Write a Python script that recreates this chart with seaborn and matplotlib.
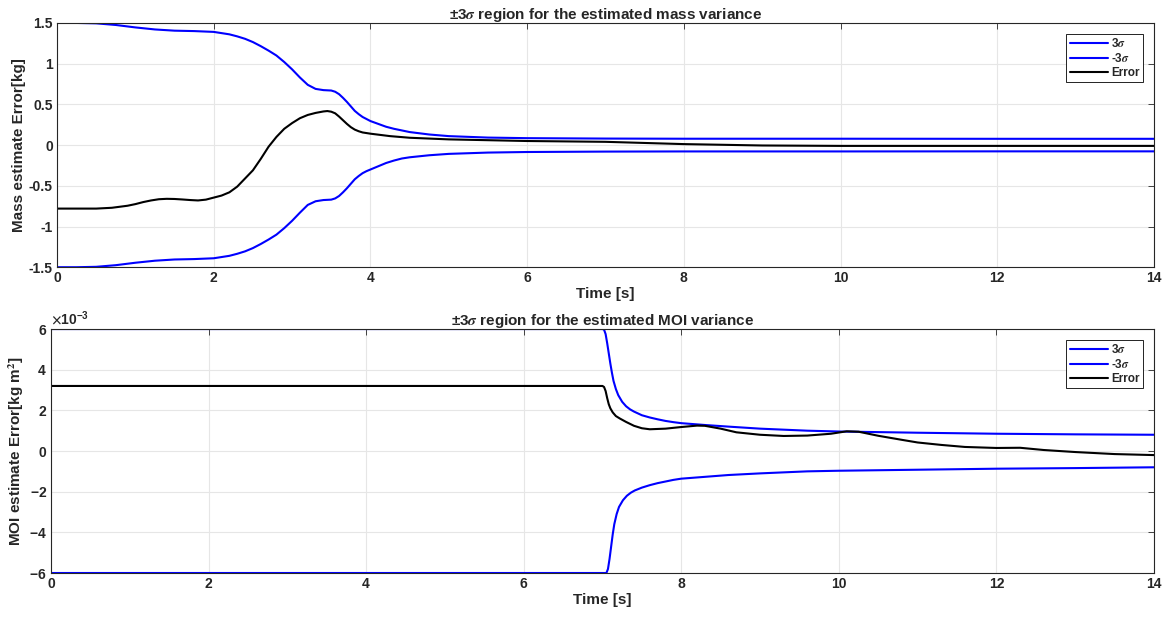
import numpy as np
import pandas as pd
import matplotlib
matplotlib.use('Agg')
import matplotlib.pyplot as plt
import seaborn as sns
from matplotlib.ticker import FuncFormatter, ScalarFormatter

# top panel: mass
t_mass = [0, 0.25, 0.5, 0.75, 1.0, 1.25, 1.5, 1.75, 2.0, 2.1, 2.2, 2.3, 2.4, 2.5, 2.6, 2.7,
          2.8, 2.9, 3.0, 3.1, 3.2, 3.3, 3.4, 3.5, 3.55, 3.6, 3.65, 3.7, 3.75, 3.8, 3.85, 3.9,
          3.95, 4.0, 4.1, 4.2, 4.3, 4.4, 4.5, 4.75, 5.0, 5.5, 6.0, 7.0, 8.0, 10.0, 12.0, 14.0]
mass_up = [1.5, 1.5, 1.495, 1.475, 1.445, 1.42, 1.405, 1.4, 1.39, 1.375, 1.36, 1.335, 1.305,
           1.265, 1.215, 1.16, 1.1, 1.02, 0.93, 0.83, 0.74, 0.69, 0.675, 0.67, 0.655, 0.625,
           0.58, 0.53, 0.475, 0.42, 0.38, 0.345, 0.32, 0.295, 0.26, 0.225, 0.2, 0.18, 0.16,
           0.13, 0.11, 0.092, 0.085, 0.08, 0.078, 0.078, 0.077, 0.077]
mass_lo = [-1.5, -1.5, -1.495, -1.475, -1.445, -1.42, -1.405, -1.4, -1.39, -1.375, -1.36,
           -1.335, -1.305, -1.265, -1.215, -1.16, -1.1, -1.02, -0.93, -0.83, -0.735, -0.69,
           -0.675, -0.67, -0.655, -0.625, -0.58, -0.53, -0.475, -0.42, -0.38, -0.345, -0.32,
           -0.3, -0.26, -0.22, -0.19, -0.165, -0.15, -0.125, -0.108, -0.092, -0.085, -0.08,
           -0.078, -0.078, -0.077, -0.077]
t_merr = [0, 0.5, 0.7, 0.9, 1.0, 1.1, 1.2, 1.3, 1.4, 1.5, 1.6, 1.7, 1.8, 1.9, 2.0, 2.1, 2.2,
          2.3, 2.4, 2.5, 2.6, 2.7, 2.8, 2.9, 3.0, 3.1, 3.2, 3.3, 3.4, 3.45, 3.5, 3.55, 3.6,
          3.65, 3.7, 3.75, 3.8, 3.85, 3.9, 4.0, 4.25, 4.5, 5.0, 5.5, 6.0, 7.0, 8.0, 9.0, 10.0,
          12.0, 14.0]
mass_err = [-0.78, -0.78, -0.77, -0.745, -0.725, -0.7, -0.68, -0.665, -0.66, -0.662, -0.668,
            -0.675, -0.68, -0.67, -0.645, -0.62, -0.58, -0.51, -0.41, -0.31, -0.17, -0.02,
            0.1, 0.2, 0.27, 0.33, 0.37, 0.395, 0.413, 0.418, 0.41, 0.39, 0.35, 0.305, 0.26,
            0.22, 0.19, 0.17, 0.155, 0.14, 0.11, 0.09, 0.07, 0.06, 0.05, 0.04, 0.012, -0.005,
            -0.01, -0.01, -0.01]

# bottom panel: MOI (x1e-3)
t_moi_up = [0, 7.0, 7.02, 7.04, 7.06, 7.08, 7.1, 7.12, 7.14, 7.17, 7.2, 7.25, 7.3, 7.35, 7.4,
            7.5, 7.6, 7.7, 7.8, 7.9, 8.0, 8.3, 8.6, 9.0, 9.6, 10.0, 11.0, 12.0, 13.0, 14.0]
moi_up = [6, 6, 5.97, 5.75, 5.3, 4.8, 4.3, 3.85, 3.45, 3.05, 2.75, 2.42, 2.2, 2.05, 1.94, 1.76,
          1.65, 1.56, 1.48, 1.42, 1.37, 1.28, 1.2, 1.1, 1.0, 0.96, 0.9, 0.85, 0.82, 0.8]
t_moi_lo = [0, 7.05, 7.07, 7.09, 7.11, 7.13, 7.15, 7.18, 7.21, 7.26, 7.31, 7.36, 7.41, 7.5,
            7.6, 7.7, 7.8, 7.9, 8.0, 8.3, 8.6, 9.0, 9.6, 10.0, 11.0, 12.0, 13.0, 14.0]
moi_lo = [-6, -6, -5.8, -5.3, -4.7, -4.1, -3.6, -3.1, -2.75, -2.42, -2.2, -2.05, -1.94, -1.8,
          -1.68, -1.58, -1.5, -1.42, -1.36, -1.27, -1.18, -1.1, -1.0, -0.97, -0.92, -0.87,
          -0.84, -0.8]
t_moi_err = [0, 7.0, 7.02, 7.04, 7.06, 7.08, 7.1, 7.13, 7.17, 7.22, 7.3, 7.4, 7.5, 7.6, 7.8,
             8.0, 8.2, 8.3, 8.5, 8.7, 9.0, 9.3, 9.6, 9.9, 10.1, 10.25, 10.5, 10.8, 11.0, 11.3,
             11.6, 12.0, 12.3, 12.6, 13.0, 13.5, 14.0]
moi_err = [3.2, 3.2, 3.15, 2.95, 2.6, 2.3, 2.1, 1.9, 1.72, 1.6, 1.43, 1.24, 1.12, 1.07, 1.1,
           1.18, 1.25, 1.24, 1.1, 0.92, 0.8, 0.74, 0.76, 0.85, 0.97, 0.95, 0.75, 0.55, 0.42,
           0.3, 0.2, 0.15, 0.16, 0.05, -0.05, -0.15, -0.2]

sns.set_style("whitegrid")
plt.rcParams['font.family'] = ['Liberation Sans', 'DejaVu Sans']
plt.rcParams['font.weight'] = 'bold'
plt.rcParams['axes.unicode_minus'] = False
plt.rcParams['mathtext.fontset'] = 'stix'

fig = plt.figure(figsize=(11.66, 6.2), dpi=100)
ax1 = fig.add_axes([0.0489, 0.569, 0.9408, 0.394])
ax2 = fig.add_axes([0.0437, 0.0758, 0.946, 0.3935])

blue = '#0000ff'
lw = 1.5
sns.lineplot(x=t_mass, y=mass_up, ax=ax1, color=blue, lw=lw, sort=False, label='3$\\sigma$')
sns.lineplot(x=t_mass, y=mass_lo, ax=ax1, color=blue, lw=lw, sort=False, label='-3$\\sigma$')
sns.lineplot(x=t_merr, y=mass_err, ax=ax1, color='black', lw=lw, sort=False, label='Error')

sns.lineplot(x=t_moi_up, y=np.array(moi_up) * 1e-3, ax=ax2, color=blue, lw=lw, sort=False,
             label='3$\\sigma$')
sns.lineplot(x=t_moi_lo, y=np.array(moi_lo) * 1e-3, ax=ax2, color=blue, lw=lw, sort=False,
             label='-3$\\sigma$')
sns.lineplot(x=t_moi_err, y=np.array(moi_err) * 1e-3, ax=ax2, color='black', lw=lw,
             sort=False, label='Error')

ax1.set_ylim(-1.5, 1.5)
ax1.set_yticks([-1.5, -1, -0.5, 0, 0.5, 1, 1.5])
ax1.yaxis.set_major_formatter(FuncFormatter(lambda v, p: '%g' % v))
ax1.set_title('±3$\\sigma$ region for the estimated mass variance', fontsize=11,
              fontweight='bold', pad=3)
ax1.set_ylabel('Mass estimate Error[kg]', fontsize=11, fontweight='bold', labelpad=2)

ax2.set_ylim(-6e-3, 6e-3)
ax2.set_yticks(np.arange(-6, 7, 2) * 1e-3)
fmt = ScalarFormatter(useMathText=True)
fmt.set_powerlimits((-2, 2))
ax2.yaxis.set_major_formatter(fmt)
ax2.set_title('±3$\\sigma$ region for the estimated MOI variance', fontsize=11,
              fontweight='bold', pad=3)
ax2.set_ylabel('MOI estimate Error[kg m$^2$]', fontsize=11, fontweight='bold', labelpad=2)

for ax in (ax1, ax2):
    ax.set_xlim(0, 14)
    ax.set_xticks(range(0, 15, 2))
    ax.xaxis.set_major_formatter(FuncFormatter(lambda v, p: '%g' % v))
    ax.set_xlabel('Time [s]', fontsize=11, fontweight='bold', labelpad=1)
    ax.grid(True, color='#e6e6e6', lw=0.8)
    for s in ax.spines.values():
        s.set_color('#262626')
        s.set_linewidth(0.8)
    ax.tick_params(direction='in', length=4, width=0.6, color='#262626', labelsize=10,
                   top=True, right=True, pad=3)
    for lab in ax.get_xticklabels() + ax.get_yticklabels():
        lab.set_fontweight('bold')
    leg = ax.legend(loc='upper right', frameon=True, fancybox=False,
                    edgecolor='black', framealpha=1, handlelength=3.2, borderpad=0.3,
                    labelspacing=0.15, handletextpad=0.3, borderaxespad=0.9,
                    prop={'weight': 'bold', 'size': 8.5})
    leg.get_frame().set_linewidth(0.6)

ax2.yaxis.get_offset_text().set_fontsize(10)
ax2.yaxis.get_offset_text().set_fontweight('bold')

fig.savefig('out.png', dpi=100)
